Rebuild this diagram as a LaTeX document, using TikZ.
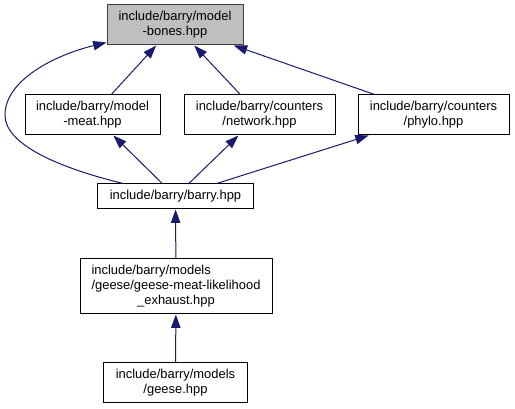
\documentclass[tikz,border=0pt]{standalone}
\usepackage{fontspec}
\setmainfont{Liberation Sans}
\usetikzlibrary{arrows.meta,calc}
\definecolor{edgeblue}{HTML}{191970}
\definecolor{boxgray}{HTML}{BFBFBF}
\definecolor{boxdark}{HTML}{404040}
\begin{document}
\begin{tikzpicture}[x=0.75pt,y=-0.75pt,
  box/.style={draw=black, line width=0.75pt, fill=white, inner sep=0pt,
    minimum height=30pt, align=center, font=\fontsize{9.7}{11.25}\selectfont},
  current/.style={box, fill=boxgray, draw=boxdark},
  dep/.style={draw=edgeblue, line width=0.75pt,
    -{Triangle[length=10pt,width=7pt]}}]
\useasboundingbox (0,0) rectangle (515,409);
\node[current, minimum width=102pt] (bones) at (175,25)
  {include/barry/model\\-bones.hpp};
\node[box, minimum width=101.25pt] (meat) at (92.5,115)
  {include/barry/model\\-meat.hpp};
\node[box, minimum width=113.25pt] (network) at (259.5,115)
  {include/barry/counters\\/network.hpp};
\node[box, minimum width=113.25pt] (phylo) at (433.5,115)
  {include/barry/counters\\/phylo.hpp};
\node[box, minimum width=117pt, minimum height=18.75pt] (barry) at (175.5,196.5)
  {include/barry/barry.hpp};
\node[box, minimum width=144pt, minimum height=41.25pt] (gmle) at (176,286.5)
  {\begin{tabular}{@{}l@{}}include/barry/models\\/geese/geese-meat-likelihood\\\multicolumn{1}{@{}c@{}}{\_exhaust.hpp}\end{tabular}};
\node[box, minimum width=108pt] (geese) at (175.5,383)
  {include/barry/models\\/geese.hpp};
\draw[dep] (meat) -- (bones);
\draw[dep] (network) -- (bones);
\draw[dep] (phylo) -- (bones);
\draw[dep] (barry) -- (meat);
\draw[dep] (barry) -- (network);
\draw[dep] (barry) -- (phylo);
\draw[dep] ($(barry.north west)+(26,0)$) .. controls (60,168) and (5,145) .. (5,115)
  .. controls (5,80) and (55,55) .. ($(bones.south west)+(0,-3)$);
\draw[dep] (gmle) -- (barry);
\draw[dep] (geese) -- (gmle);
\end{tikzpicture}
\end{document}
